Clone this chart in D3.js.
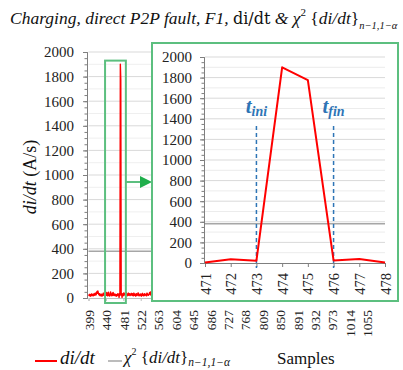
<!DOCTYPE html>
<html><head><meta charset="utf-8">
<script src="https://cdn.jsdelivr.net/npm/d3@7"></script>
<style>
html,body{margin:0;padding:0;background:#fff;}
svg{display:block;}
</style></head>
<body>
<svg id="c" width="403" height="370"></svg>
<script>
// ---------- data ----------
const sampleStart = 399;               // first sample of the di/dt series
const didtValues = [
 20,25,18,30,22,15,28,33,20,25,30,18,24,35,28,22,40,30,26,45,52,38,
 58,44,30,25,35,20,28,18,32,24,15,30,22,40,28,20,35,18,25,30,
 22,45,30,18,26,48,20,32,15,28,50,24,30,18,38,22,45,28,20,33,
 25,18,30,22,15,28,20,35,25,30,
 5,36,22,1900,1775,25,38,5,
 28,35,20,42,30,25,38,22,30,45,28,18,33,25,40,22,30,35,20,28,24,38,
 30,20,35,25,18,40,28,22,32,15,28,35,20,30,25,42,22,18,30,26,
 20,33,25,15,28,38,22,30,18,26,35,20,28,24,32,18,40,25,30,22,
 28,35,45,30,25,52,40,33,28,36,24,30,38,25,20,32
];
const chiThreshold = 380;              // chi^2 {di/dt} threshold
const mainXTicks = [399,440,481,522,563,604,645,686,727,768,809,850,891,932,973,1014,1055];
const mainXDomain = [399, 1095];
const yTicks = [0,200,400,600,800,1000,1200,1400,1600,1800,2000];
const insetXTicks = [471,472,473,474,475,476,477,478];
const tIni = 473, tFin = 476;
const zoomBoxSamples = [438, 487];
const zoomBoxTop = 1930;

const series = didtValues.map((v,i)=>({s: sampleStart+i, v}));
const insetSeries = series.filter(d=>d.s>=471 && d.s<=478);

// ---------- layout ----------
const svg = d3.select("#c");
const SERIF = '"Liberation Serif"';
const red = "#ff0000", green = "#5cbf7f", blue = "#2e75b6", grey = "#a6a6a6";

// title
const title = svg.append("text").attr("x",10).attr("y",24).style("font-size","17.5px").attr("fill","#111");
title.append("tspan").style("font-style","italic").text("Charging, direct P2P fault, F1, ");
title.append("tspan").attr("class","upr").style("font-size","16px").text("di/dt");
title.append("tspan").style("font-style","italic").text(" & \u03C7");
title.append("tspan").style("font-size","11px").attr("dy",-8).text("2");
title.append("tspan").attr("dy",8).text(" {");
title.append("tspan").style("font-style","italic").text("di/dt");
title.append("tspan").text("}");
title.append("tspan").style("font-style","italic").style("font-size","10.5px").attr("dy",5).text("n\u22121,1\u2212\u03B1");

// ---------- main chart ----------
const x = d3.scaleLinear().domain(mainXDomain).range([88.5, 384]);
const y = d3.scaleLinear().domain([0,2000]).range([298, 52]);

const gMain = svg.append("g");
gMain.append("g").selectAll("line").data(d3.range(100,2001,200)).join("line")
  .attr("x1",x.range()[0]).attr("x2",x.range()[1]).attr("y1",d=>y(d)).attr("y2",d=>y(d))
  .attr("stroke","#efefef").attr("stroke-width",1);
gMain.append("g").selectAll("line").data(yTicks.filter(d=>d>0)).join("line")
  .attr("x1",x.range()[0]).attr("x2",x.range()[1]).attr("y1",d=>y(d)).attr("y2",d=>y(d))
  .attr("stroke","#d9d9d9").attr("stroke-width",1);

const yMinor = d3.axisLeft(y).tickValues(d3.range(0,2001,50)).tickSize(2.5).tickFormat("");
gMain.append("g").attr("transform",`translate(${x.range()[0]-1.5},0)`).call(yMinor)
  .call(g=>g.selectAll("line,path").attr("stroke","#7f7f7f"));
const yAxis = d3.axisLeft(y).tickValues(yTicks).tickSize(4).tickPadding(9).tickFormat(d3.format("d"));
gMain.append("g").attr("transform",`translate(${x.range()[0]-1.5},0)`).call(yAxis)
  .call(g=>g.select(".domain").attr("stroke","#7f7f7f"))
  .call(g=>g.selectAll(".tick line").attr("stroke","#7f7f7f"))
  .call(g=>g.selectAll("text").style("font-size","15px").attr("fill","#222"));

const xAxis = d3.axisBottom(x).tickValues(mainXTicks).tickSize(3).tickFormat(d3.format("d"));
gMain.append("g").attr("transform",`translate(0,${y(0)})`).call(xAxis)
  .call(g=>g.select(".domain").attr("stroke","#bfbfbf"))
  .call(g=>g.selectAll(".tick line").attr("stroke","#bfbfbf"))
  .call(g=>g.selectAll("text").style("font-size","13.5px").attr("fill","#222")
     .attr("transform","rotate(-90)").attr("text-anchor","end").attr("x",-12).attr("y",0).attr("dy","0.35em"));

gMain.append("line").attr("x1",x.range()[0]).attr("x2",x.range()[1])
  .attr("y1",y(chiThreshold)).attr("y2",y(chiThreshold)).attr("stroke",grey).attr("stroke-width",1.3);
gMain.append("path").datum(series)
  .attr("d",d3.line().x(d=>x(d.s)).y(d=>y(d.v)))
  .attr("fill","none").attr("stroke",red).attr("stroke-width",1.4).attr("stroke-linejoin","round");

// y title
const yt = svg.append("text").attr("transform","translate(36,177) rotate(-90)")
  .attr("text-anchor","middle").style("font-size","18px").attr("fill","#111");
yt.append("tspan").style("font-style","italic").text("di/dt");
yt.append("tspan").text(" (A/s)");

// zoom box on main chart
svg.append("rect").attr("x",x(zoomBoxSamples[0])).attr("y",y(zoomBoxTop))
  .attr("width",x(zoomBoxSamples[1])-x(zoomBoxSamples[0])).attr("height",303-y(zoomBoxTop))
  .attr("fill","none").attr("stroke",green).attr("stroke-width",2);

// arrow
svg.append("line").attr("x1",x(zoomBoxSamples[1])).attr("x2",141).attr("y1",182).attr("y2",182)
  .attr("stroke",green).attr("stroke-width",2);
svg.append("path").attr("d","M140,176 L152,182 L140,188 Z").attr("fill","#1fae4b");

// ---------- inset ----------
svg.append("rect").attr("x",152).attr("y",43).attr("width",246).attr("height",258)
  .attr("fill","#fff").attr("stroke",green).attr("stroke-width",2);

const xi = d3.scaleLinear().domain([471,478]).range([205,385]);
const yi = d3.scaleLinear().domain([0,2000]).range([263,57]);
const gIn = svg.append("g");
gIn.append("g").selectAll("line").data(d3.range(100,2001,200)).join("line")
  .attr("x1",xi.range()[0]).attr("x2",xi.range()[1]).attr("y1",d=>yi(d)).attr("y2",d=>yi(d))
  .attr("stroke","#ececec").attr("stroke-width",1);
gIn.append("g").selectAll("line").data(yTicks.filter(d=>d>0)).join("line")
  .attr("x1",xi.range()[0]).attr("x2",xi.range()[1]).attr("y1",d=>yi(d)).attr("y2",d=>yi(d))
  .attr("stroke","#d9d9d9").attr("stroke-width",1);

const yiMinor = d3.axisLeft(yi).tickValues(d3.range(0,2001,50)).tickSize(2.5).tickFormat("");
gIn.append("g").attr("transform",`translate(${xi.range()[0]-1},0)`).call(yiMinor)
  .call(g=>g.selectAll("line,path").attr("stroke","#7f7f7f"));
gIn.append("g").attr("transform",`translate(${xi.range()[0]-1},0)`)
  .call(d3.axisLeft(yi).tickValues(yTicks).tickSize(4).tickPadding(8).tickFormat(d3.format("d")))
  .call(g=>g.select(".domain").attr("stroke","#7f7f7f"))
  .call(g=>g.selectAll(".tick line").attr("stroke","#7f7f7f"))
  .call(g=>g.selectAll("text").style("font-size","15px").attr("fill","#222"));
gIn.append("g").attr("transform",`translate(0,${yi(0)})`)
  .call(d3.axisBottom(xi).tickValues(insetXTicks).tickSize(4).tickFormat(d3.format("d")))
  .call(g=>g.select(".domain").attr("stroke","#7f7f7f"))
  .call(g=>g.selectAll(".tick line").attr("stroke","#7f7f7f"))
  .call(g=>g.selectAll("text").style("font-size","14.5px").attr("fill","#222")
     .attr("transform","rotate(-90)").attr("text-anchor","end").attr("x",-10).attr("y",0).attr("dy","0.35em"));

gIn.append("line").attr("x1",xi.range()[0]).attr("x2",xi.range()[1])
  .attr("y1",yi(chiThreshold)).attr("y2",yi(chiThreshold)).attr("stroke",grey).attr("stroke-width",1.5);

[[tIni,"ini"],[tFin,"fin"]].forEach(([t,lab])=>{
  gIn.append("line").attr("x1",xi(t)).attr("x2",xi(t)).attr("y1",126).attr("y2",yi(0)+5)
    .attr("stroke",blue).attr("stroke-width",1.5).attr("stroke-dasharray","4,3");
  const tt = gIn.append("text").attr("x",xi(t)).attr("y",113).attr("text-anchor","middle")
    .attr("fill",blue).style("font-style","italic").style("font-weight","bold");
  tt.append("tspan").style("font-size","21px").text("t");
  tt.append("tspan").style("font-size","14px").attr("dy",3).text(lab);
});

gIn.append("path").datum(insetSeries)
  .attr("d",d3.line().x(d=>xi(d.s)).y(d=>yi(d.v)))
  .attr("fill","none").attr("stroke",red).attr("stroke-width",2).attr("stroke-linejoin","round");

// ---------- legend ----------
const lg = svg.append("g");
lg.append("line").attr("x1",35).attr("x2",57).attr("y1",361).attr("y2",361).attr("stroke",red).attr("stroke-width",2);
lg.append("text").attr("x",60).attr("y",364).style("font-size","19px").style("font-style","italic").attr("fill","#111").text("di/dt");
lg.append("line").attr("x1",108).attr("x2",122).attr("y1",361).attr("y2",361).attr("stroke",grey).attr("stroke-width",1.5);
const l2 = lg.append("text").attr("x",124).attr("y",363).style("font-size","17px").attr("fill","#111");
l2.append("tspan").style("font-style","italic").text("\u03C7");
l2.append("tspan").style("font-size","10px").attr("dy",-8).text("2");
l2.append("tspan").attr("dy",8).text(" {");
l2.append("tspan").style("font-style","italic").text("di/dt");
l2.append("tspan").text("}");
l2.append("tspan").style("font-style","italic").style("font-size","11.5px").attr("dy",3).text("n\u22121,1\u2212\u03B1");
svg.append("text").attr("x",277).attr("y",364).style("font-size","17px").attr("fill","#111").text("Samples");

// serif everywhere (axis groups default to sans-serif)
svg.selectAll("g").attr("font-family",null);
svg.selectAll("text").style("font-family",SERIF);
svg.selectAll("tspan.upr").style("font-family",'"DejaVu Serif"');
</script>
</body></html>
